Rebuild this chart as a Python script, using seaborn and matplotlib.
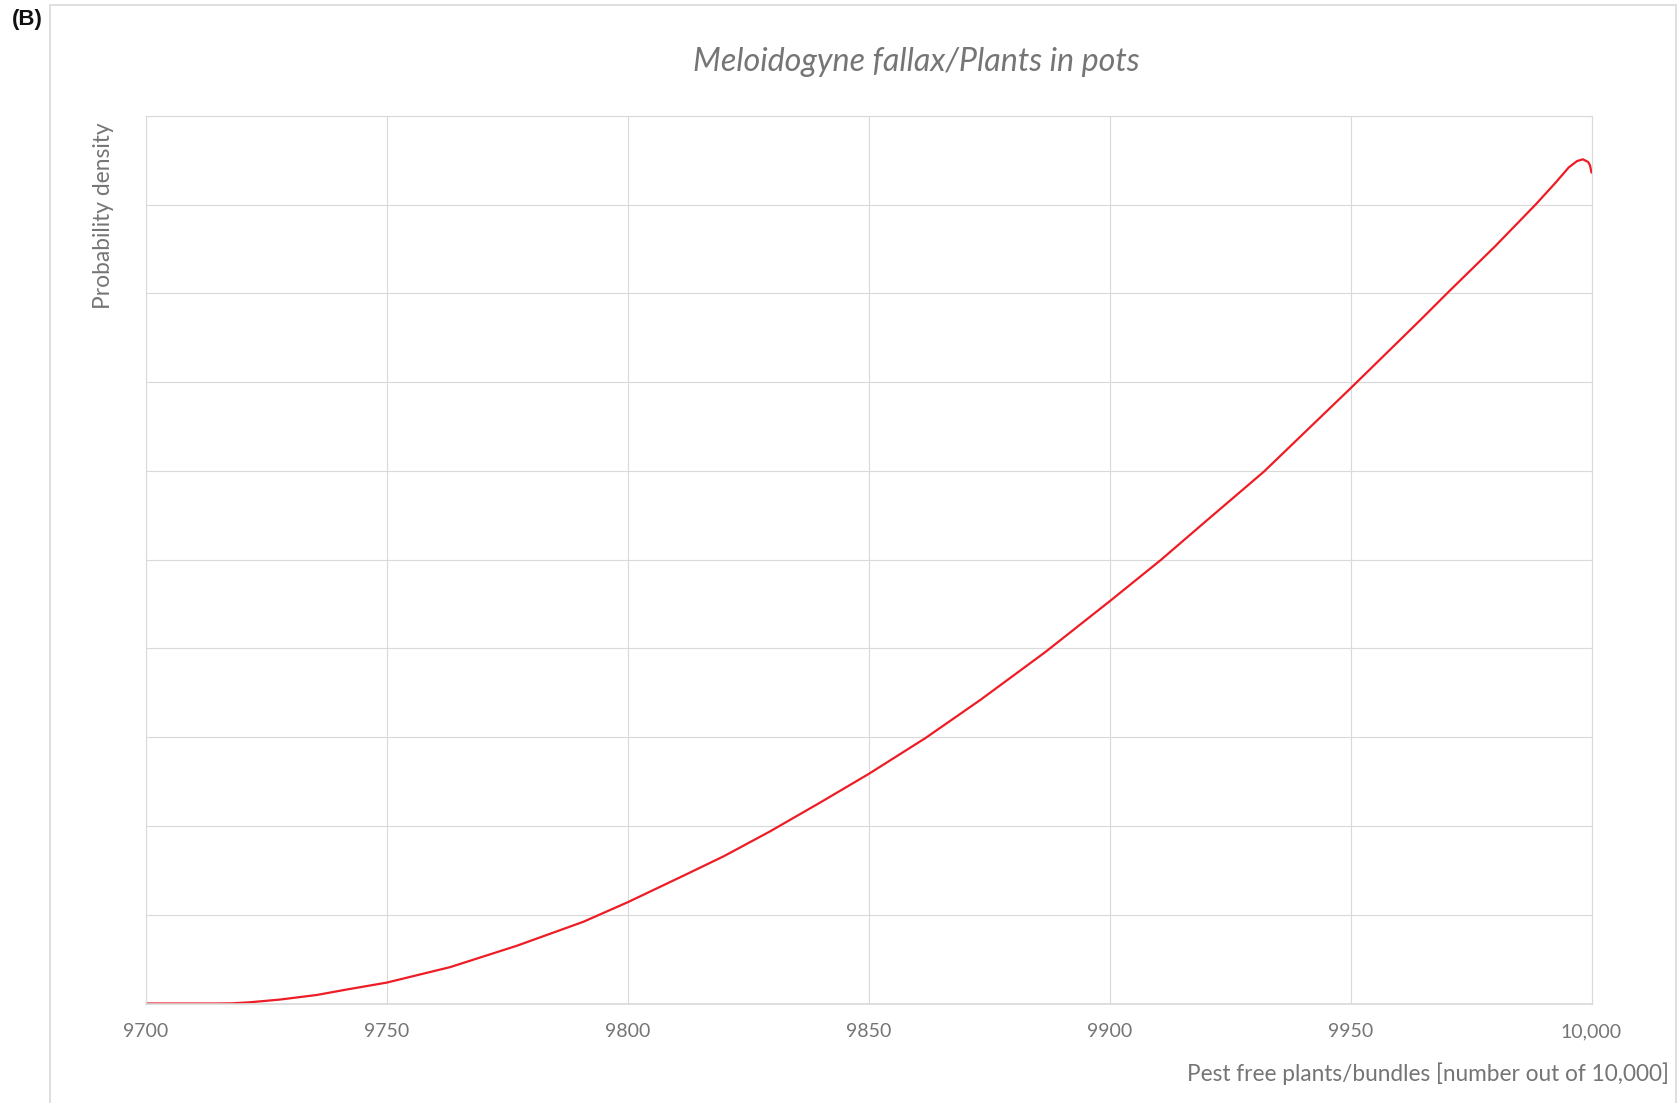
import numpy as np
import pandas as pd
import matplotlib
matplotlib.use('Agg')
import matplotlib.pyplot as plt
import seaborn as sns
from matplotlib.patches import Rectangle

# values (y in gridline units)
pest_free = [9700, 9715, 9718, 9721.7, 9728, 9735.5, 9742, 9750, 9763.2, 9777,
             9790.8, 9800, 9811.6, 9820, 9829.6, 9840, 9850, 9861.8, 9873.2,
             9886.7, 9900, 9910.5, 9921, 9932, 9941, 9950,
             9964.5, 9970.4, 9980, 9988.4, 9992.6, 9995.3, 9997, 9998.2,
             9999.3, 9999.7, 10000]
density = [0.0, 0.0, 0.002, 0.014, 0.045, 0.096, 0.16, 0.235, 0.41, 0.65,
           0.92, 1.14, 1.44, 1.66, 1.94, 2.265, 2.585, 2.99, 3.42,
           3.96, 4.53, 4.99, 5.48, 5.99, 6.46, 6.93,
           7.70, 8.02, 8.53, 9.0, 9.25, 9.42, 9.49, 9.51,
           9.48, 9.44, 9.36]
x_ticks = [9700, 9750, 9800, 9850, 9900, 9950, 10000]
x_tick_labels = ['9700', '9750', '9800', '9850', '9900', '9950', '10,000']

df = pd.DataFrame({'pest_free': pest_free, 'density': density})

sns.set_theme(style='whitegrid')
plt.rcParams['font.family'] = ['Lato', 'DejaVu Sans']

text_grey = '#757575'
grid_grey = '#d9d9d9'

fig = plt.figure(figsize=(16.79, 11.03), dpi=100)
fig.patches.append(Rectangle((50 / 1679, -0.01), (1676 - 50) / 1679, 1 - 5 / 1103 + 0.01,
                             transform=fig.transFigure, fill=False,
                             edgecolor=grid_grey, linewidth=1.2))

ax = fig.add_axes([145.6 / 1679, 1 - 1003.5 / 1103, (1591.5 - 145.6) / 1679,
                   (1003.5 - 115.8) / 1103])
sns.lineplot(data=df, x='pest_free', y='density', ax=ax, color='#ee1c25',
             linewidth=1.6, sort=False)

ax.set_xlim(9700, 10000)
ax.set_ylim(0, 10)
ax.set_xticks(x_ticks)
ax.set_xticklabels(x_tick_labels)
ax.set_yticks(np.arange(0, 11, 1))
ax.set_yticklabels([])
ax.tick_params(axis='both', length=0, colors=text_grey, labelsize=14, pad=14)
ax.grid(True, color=grid_grey, linewidth=0.8)
for side in ax.spines.values():
    side.set_color(grid_grey)
    side.set_linewidth(0.8)
ax.spines['bottom'].set_linewidth(1.2)
ax.set_xlabel('')
ax.set_ylabel('')

fig.text(916 / 1679, 1 - 62 / 1103, 'Meloidogyne fallax/Plants in pots',
         ha='center', va='center', fontsize=23.2, style='italic', color=text_grey)
fig.text(103 / 1679, 1 - 122 / 1103, 'Probability density', rotation=90,
         ha='center', va='top', fontsize=16.4, color=text_grey)
fig.text(1669 / 1679, 1 - 1074 / 1103, 'Pest free plants/bundles [number out of 10,000]',
         ha='right', va='center', fontsize=16.3, color=text_grey)
fig.text(12 / 1679, 1 - 20 / 1103, '(B)', ha='left', va='center', fontsize=16,
         fontweight='bold', color='#111111', family=['Liberation Sans', 'DejaVu Sans'])

fig.savefig('out.png', dpi=100)
